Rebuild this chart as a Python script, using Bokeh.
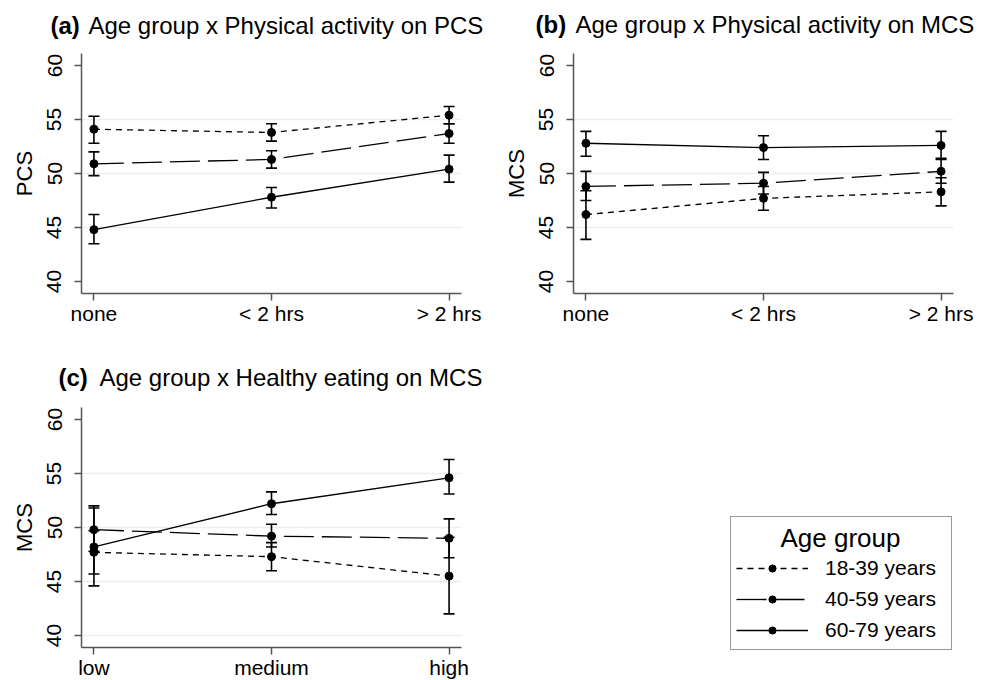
from bokeh.plotting import figure
from bokeh.models import (ColumnDataSource, Whisker, TeeHead, FixedTicker, Label,
                          Legend, LegendItem, Range1d, Plot, Div)
from bokeh.layouts import row, column
from bokeh.embed import file_html
from bokeh.resources import INLINE

FONT = "Liberation Sans"

activity_levels = ["none", "< 2 hrs", "> 2 hrs"]
eating_levels = ["low", "medium", "high"]
age_groups = ["18-39 years", "40-59 years", "60-79 years"]

# (a) Age group x Physical activity on PCS
pcs_pa_18_39 = [54.1, 53.8, 55.4]
pcs_pa_18_39_lo = [52.8, 53.0, 54.6]
pcs_pa_18_39_hi = [55.3, 54.6, 56.2]
pcs_pa_40_59 = [50.9, 51.3, 53.7]
pcs_pa_40_59_lo = [49.8, 50.5, 52.8]
pcs_pa_40_59_hi = [52.0, 52.1, 54.6]
pcs_pa_60_79 = [44.8, 47.8, 50.4]
pcs_pa_60_79_lo = [43.5, 46.8, 49.2]
pcs_pa_60_79_hi = [46.2, 48.7, 51.7]

# (b) Age group x Physical activity on MCS
mcs_pa_18_39 = [46.2, 47.7, 48.3]
mcs_pa_18_39_lo = [43.9, 46.6, 47.0]
mcs_pa_18_39_hi = [48.4, 48.8, 49.6]
mcs_pa_40_59 = [48.8, 49.1, 50.2]
mcs_pa_40_59_lo = [47.5, 48.1, 49.1]
mcs_pa_40_59_hi = [50.2, 50.1, 51.4]
mcs_pa_60_79 = [52.8, 52.4, 52.6]
mcs_pa_60_79_lo = [51.6, 51.3, 51.3]
mcs_pa_60_79_hi = [53.9, 53.5, 53.9]

# (c) Age group x Healthy eating on MCS
mcs_he_18_39 = [47.7, 47.3, 45.5]
mcs_he_18_39_lo = [45.7, 46.0, 42.0]
mcs_he_18_39_hi = [49.7, 48.6, 49.1]
mcs_he_40_59 = [49.8, 49.2, 49.0]
mcs_he_40_59_lo = [47.8, 48.2, 47.2]
mcs_he_40_59_hi = [51.8, 50.3, 50.8]
mcs_he_60_79 = [48.2, 52.2, 54.6]
mcs_he_60_79_lo = [44.6, 51.2, 53.1]
mcs_he_60_79_hi = [52.0, 53.3, 56.3]

y_ticks = [40, 45, 50, 55, 60]
dashes = ["6 5", "30 8", "solid"]

LINE_W = 1.3
AXIS_COL = "#555555"
HAS_FRAME_ALIGN = "frame_align" in Plot.properties()


def blank_fig(w, h):
    kw = {}
    if HAS_FRAME_ALIGN:
        kw["frame_align"] = False
    f = figure(width=w, height=h, toolbar_location=None, output_backend="svg",
               min_border=0, x_axis_location=None, y_axis_location=None,
               outline_line_color=None, title=None,
               x_range=Range1d(0, 1), y_range=Range1d(0, 1), **kw)
    f.xgrid.visible = False
    f.ygrid.visible = False
    return f


def title_fig(w, h, tag, title, bold_x, text_x, y_from_bottom):
    if not HAS_FRAME_ALIGN:
        return Div(text=f"<b>{tag}</b>&nbsp;{title}", width=w, height=h,
                   styles={"font-family": FONT, "font-size": "24px",
                           "color": "black", "white-space": "nowrap",
                           "padding-left": f"{bold_x}px",
                           "padding-top": f"{h - y_from_bottom - 14}px",
                           "box-sizing": "border-box"})
    t = blank_fig(w, h)
    t.add_layout(Label(x=bold_x, y=y_from_bottom, x_units="screen", y_units="screen",
                       text=tag, text_font=FONT, text_font_size="24px",
                       text_font_style="bold", text_baseline="middle",
                       text_align="left", text_color="black"))
    t.add_layout(Label(x=text_x, y=y_from_bottom, x_units="screen", y_units="screen",
                       text=title, text_font=FONT, text_font_size="24px",
                       text_baseline="middle", text_align="left",
                       text_color="black"))
    return t


def make_panel(ylabel, levels, series, left, right, bottom, grid_ticks):
    p = figure(title=None, toolbar_location=None, output_backend="svg",
               frame_width=380, frame_height=240,
               min_border_left=left, min_border_right=right,
               min_border_top=0, min_border_bottom=bottom,
               x_range=Range1d(-0.07, 2.07), y_range=Range1d(38.89, 61.11),
               outline_line_color=None, background_fill_color="white",
               border_fill_color="white")
    xs = list(range(len(levels)))
    for (mean, lo, hi), dash in zip(series, dashes):
        src = ColumnDataSource(dict(x=xs, y=mean, lo=lo, hi=hi))
        p.line("x", "y", source=src, line_color="black", line_width=LINE_W,
               line_dash=dash)
        p.add_layout(Whisker(source=src, base="x", lower="lo", upper="hi",
                             dimension="height", line_color="black", line_width=1.6,
                             lower_head=TeeHead(size=11, line_color="black", line_width=1.6),
                             upper_head=TeeHead(size=11, line_color="black", line_width=1.6)))
        p.scatter("x", "y", source=src, size=8, color="black")

    p.xaxis.ticker = FixedTicker(ticks=xs)
    p.xaxis.major_label_overrides = {i: lab for i, lab in enumerate(levels)}
    p.yaxis.ticker = FixedTicker(ticks=y_ticks)
    p.yaxis.major_label_orientation = "vertical"
    p.yaxis.axis_label = ylabel
    for ax in (p.xaxis, p.yaxis):
        ax.axis_line_color = AXIS_COL
        ax.axis_line_width = 1.5
        ax.major_tick_line_color = AXIS_COL
        ax.major_tick_line_width = 1.5
        ax.major_tick_out = 7
        ax.major_tick_in = 0
        ax.minor_tick_out = 0
        ax.minor_tick_in = 0
        ax.major_label_text_font = FONT
        ax.major_label_text_font_size = "21px"
        ax.major_label_text_color = "black"
        ax.axis_label_text_font = FONT
        ax.axis_label_text_font_size = "22px"
        ax.axis_label_text_font_style = "normal"
        ax.axis_label_text_color = "black"
    p.xaxis.major_label_standoff = 1
    p.yaxis.major_label_standoff = 13
    p.yaxis.axis_label_standoff = 8
    p.xgrid.visible = False
    p.ygrid.ticker = FixedTicker(ticks=grid_ticks)
    p.ygrid.grid_line_color = "#eeeeee"
    p.ygrid.grid_line_width = 1.5
    return p


ta = title_fig(490, 53, "(a)", "Age group x Physical activity on PCS", 50, 88, 28)
pa = make_panel("PCS", activity_levels,
                [(pcs_pa_18_39, pcs_pa_18_39_lo, pcs_pa_18_39_hi),
                 (pcs_pa_40_59, pcs_pa_40_59_lo, pcs_pa_40_59_hi),
                 (pcs_pa_60_79, pcs_pa_60_79_lo, pcs_pa_60_79_hi)],
                81, 29, 37, [45, 50, 55])
tb = title_fig(498, 53, "(b)", "Age group x Physical activity on MCS", 45, 85, 29)
pb = make_panel("MCS", activity_levels,
                [(mcs_pa_18_39, mcs_pa_18_39_lo, mcs_pa_18_39_hi),
                 (mcs_pa_40_59, mcs_pa_40_59_lo, mcs_pa_40_59_hi),
                 (mcs_pa_60_79, mcs_pa_60_79_lo, mcs_pa_60_79_hi)],
                83, 35, 37, [45, 50, 55])
tc = title_fig(490, 77, "(c)", "Age group x Healthy eating on MCS", 58, 99, 30)
pc = make_panel("MCS", eating_levels,
                [(mcs_he_18_39, mcs_he_18_39_lo, mcs_he_18_39_hi),
                 (mcs_he_40_59, mcs_he_40_59_lo, mcs_he_40_59_hi),
                 (mcs_he_60_79, mcs_he_60_79_lo, mcs_he_60_79_hi)],
                81, 29, 30, [40, 45, 50, 55])

# legend panel
pl = blank_fig(498, 350)
items = []
for name, dash in zip(age_groups, dashes):
    r1 = pl.line([float("nan")], [float("nan")], line_color="black",
                 line_width=LINE_W, line_dash=dash)
    r2 = pl.scatter([float("nan")], [float("nan")], size=8, color="black")
    items.append(LegendItem(label=name, renderers=[r1, r2]))
legend = Legend(items=items, location=(240, 30), title=" ",
                title_text_font=FONT, title_text_font_size="26px",
                title_standoff=1,
                label_text_font=FONT, label_text_font_size="21px",
                label_text_color="black",
                glyph_width=72, glyph_height=18, label_height=28, label_width=121,
                label_standoff=17, spacing=3, padding=5, margin=0,
                border_line_color="#333333", border_line_width=1.2,
                background_fill_alpha=0.0)
pl.add_layout(legend, "center")
pl.add_layout(Label(x=350, y=143, x_units="screen", y_units="screen",
                    text="Age group", text_font=FONT, text_font_size="26px",
                    text_align="center", text_baseline="middle",
                    text_color="black"))

layout = column(row(column(ta, pa), column(tb, pb)), row(column(tc, pc), pl))
open("out.html", "w").write(file_html(layout, INLINE))
